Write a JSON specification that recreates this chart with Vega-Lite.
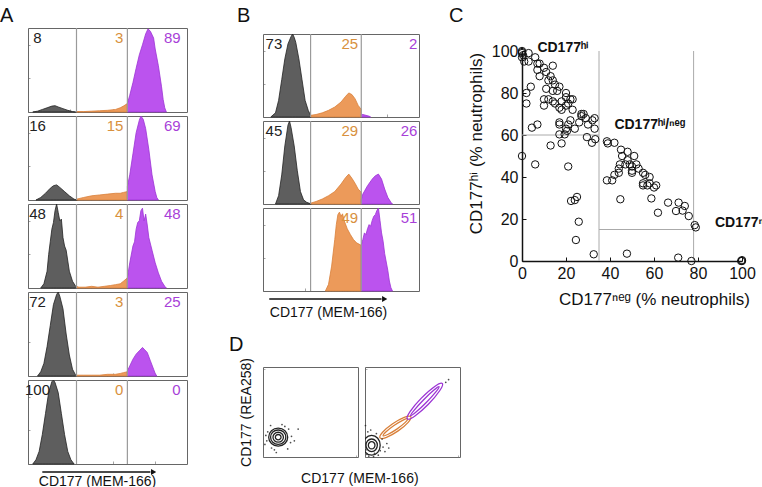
{
"$schema":"https://vega.github.io/schema/vega-lite/v6.json",
"padding":{"left":0,"top":5,"right":0,"bottom":0},
"background":"white",
"config":{"font":"Liberation Sans","view":{"stroke":"#666","strokeWidth":1},"axis":{"grid":false},"title":{"fontSize":20,"fontWeight":"normal","anchor":"start","color":"#111","frame":"group"}},
"datasets":{
"stats":[
{"p":"A1","neg":"8","mid":"3","hi":"89"},{"p":"A2","neg":"16","mid":"15","hi":"69"},{"p":"A3","neg":"48","mid":"4","hi":"48"},{"p":"A4","neg":"72","mid":"3","hi":"25"},{"p":"A5","neg":"100","mid":"0","hi":"0"},
{"p":"B1","neg":"73","mid":"25","hi":"2"},{"p":"B2","neg":"45","mid":"29","hi":"26"},{"p":"B3","neg":"","mid":"49","hi":"51"}],
"arrows":[{"p":"A"},{"p":"B"}],
"hist":[
{"p":"A1","g":"neg","x":3,"y":0},{"p":"A1","g":"neg","x":6,"y":1},{"p":"A1","g":"neg","x":9,"y":3},{"p":"A1","g":"neg","x":12,"y":5},{"p":"A1","g":"neg","x":15,"y":7},{"p":"A1","g":"neg","x":17,"y":7.5},{"p":"A1","g":"neg","x":19,"y":6},{"p":"A1","g":"neg","x":22,"y":4},{"p":"A1","g":"neg","x":25,"y":2},{"p":"A1","g":"neg","x":28,"y":0.5},{"p":"A1","g":"neg","x":30,"y":0},
{"p":"A1","g":"mid","x":30.5,"y":0.5},{"p":"A1","g":"mid","x":35,"y":0.5},{"p":"A1","g":"mid","x":40,"y":1},{"p":"A1","g":"mid","x":45,"y":1.5},{"p":"A1","g":"mid","x":50,"y":2},{"p":"A1","g":"mid","x":55,"y":3},{"p":"A1","g":"mid","x":58,"y":5},{"p":"A1","g":"mid","x":60,"y":7},{"p":"A1","g":"mid","x":62.5,"y":10},
{"p":"A1","g":"hi","x":62.5,"y":10},{"p":"A1","g":"hi","x":64,"y":20},{"p":"A1","g":"hi","x":66,"y":35},{"p":"A1","g":"hi","x":68,"y":52},{"p":"A1","g":"hi","x":70,"y":68},{"p":"A1","g":"hi","x":72,"y":80},{"p":"A1","g":"hi","x":74,"y":93},{"p":"A1","g":"hi","x":75.5,"y":99},{"p":"A1","g":"hi","x":77,"y":96},{"p":"A1","g":"hi","x":79,"y":88},{"p":"A1","g":"hi","x":80,"y":75},{"p":"A1","g":"hi","x":82,"y":55},{"p":"A1","g":"hi","x":84,"y":30},{"p":"A1","g":"hi","x":85,"y":15},{"p":"A1","g":"hi","x":86,"y":5},{"p":"A1","g":"hi","x":87,"y":0},
{"p":"A2","g":"neg","x":5,"y":0},{"p":"A2","g":"neg","x":8,"y":3},{"p":"A2","g":"neg","x":11,"y":8},{"p":"A2","g":"neg","x":14,"y":14},{"p":"A2","g":"neg","x":16,"y":17},{"p":"A2","g":"neg","x":18,"y":18},{"p":"A2","g":"neg","x":20,"y":15},{"p":"A2","g":"neg","x":23,"y":10},{"p":"A2","g":"neg","x":26,"y":5},{"p":"A2","g":"neg","x":29,"y":1},{"p":"A2","g":"neg","x":31,"y":0},
{"p":"A2","g":"mid","x":30.5,"y":1},{"p":"A2","g":"mid","x":35,"y":3},{"p":"A2","g":"mid","x":40,"y":5},{"p":"A2","g":"mid","x":45,"y":6},{"p":"A2","g":"mid","x":50,"y":7},{"p":"A2","g":"mid","x":55,"y":8},{"p":"A2","g":"mid","x":58,"y":8},{"p":"A2","g":"mid","x":60,"y":9},{"p":"A2","g":"mid","x":62.5,"y":10},
{"p":"A2","g":"hi","x":62.5,"y":16},{"p":"A2","g":"hi","x":64,"y":30},{"p":"A2","g":"hi","x":66,"y":55},{"p":"A2","g":"hi","x":68,"y":80},{"p":"A2","g":"hi","x":70,"y":95},{"p":"A2","g":"hi","x":71,"y":100},{"p":"A2","g":"hi","x":72.5,"y":96},{"p":"A2","g":"hi","x":74,"y":85},{"p":"A2","g":"hi","x":76,"y":60},{"p":"A2","g":"hi","x":78,"y":30},{"p":"A2","g":"hi","x":80,"y":10},{"p":"A2","g":"hi","x":81,"y":3},{"p":"A2","g":"hi","x":82,"y":0},
{"p":"A3","g":"neg","x":8,"y":0},{"p":"A3","g":"neg","x":10,"y":5},{"p":"A3","g":"neg","x":12,"y":20},{"p":"A3","g":"neg","x":13,"y":40},{"p":"A3","g":"neg","x":14,"y":55},{"p":"A3","g":"neg","x":15,"y":70},{"p":"A3","g":"neg","x":16,"y":78},{"p":"A3","g":"neg","x":17,"y":92},{"p":"A3","g":"neg","x":18,"y":100},{"p":"A3","g":"neg","x":19,"y":90},{"p":"A3","g":"neg","x":20,"y":80},{"p":"A3","g":"neg","x":21,"y":82},{"p":"A3","g":"neg","x":22,"y":60},{"p":"A3","g":"neg","x":23,"y":50},{"p":"A3","g":"neg","x":24,"y":45},{"p":"A3","g":"neg","x":26,"y":20},{"p":"A3","g":"neg","x":28,"y":8},{"p":"A3","g":"neg","x":30,"y":2},
{"p":"A3","g":"mid","x":30.5,"y":2},{"p":"A3","g":"mid","x":32,"y":1},{"p":"A3","g":"mid","x":36,"y":1},{"p":"A3","g":"mid","x":40,"y":2},{"p":"A3","g":"mid","x":44,"y":1},{"p":"A3","g":"mid","x":48,"y":2},{"p":"A3","g":"mid","x":52,"y":3},{"p":"A3","g":"mid","x":55,"y":4},{"p":"A3","g":"mid","x":58,"y":5},{"p":"A3","g":"mid","x":60,"y":8},{"p":"A3","g":"mid","x":62.5,"y":12},
{"p":"A3","g":"hi","x":62.5,"y":12},{"p":"A3","g":"hi","x":64,"y":30},{"p":"A3","g":"hi","x":66,"y":50},{"p":"A3","g":"hi","x":67,"y":55},{"p":"A3","g":"hi","x":68,"y":70},{"p":"A3","g":"hi","x":69,"y":78},{"p":"A3","g":"hi","x":70,"y":80},{"p":"A3","g":"hi","x":71,"y":92},{"p":"A3","g":"hi","x":72,"y":95},{"p":"A3","g":"hi","x":73,"y":80},{"p":"A3","g":"hi","x":74,"y":88},{"p":"A3","g":"hi","x":75,"y":75},{"p":"A3","g":"hi","x":76,"y":60},{"p":"A3","g":"hi","x":78,"y":45},{"p":"A3","g":"hi","x":80,"y":30},{"p":"A3","g":"hi","x":82,"y":18},{"p":"A3","g":"hi","x":84,"y":8},{"p":"A3","g":"hi","x":86,"y":2},{"p":"A3","g":"hi","x":87,"y":0},
{"p":"A4","g":"neg","x":6,"y":0},{"p":"A4","g":"neg","x":8,"y":5},{"p":"A4","g":"neg","x":10,"y":15},{"p":"A4","g":"neg","x":12,"y":35},{"p":"A4","g":"neg","x":14,"y":60},{"p":"A4","g":"neg","x":16,"y":85},{"p":"A4","g":"neg","x":18,"y":97},{"p":"A4","g":"neg","x":19,"y":100},{"p":"A4","g":"neg","x":20,"y":95},{"p":"A4","g":"neg","x":22,"y":80},{"p":"A4","g":"neg","x":24,"y":50},{"p":"A4","g":"neg","x":26,"y":25},{"p":"A4","g":"neg","x":28,"y":8},{"p":"A4","g":"neg","x":30,"y":1},
{"p":"A4","g":"mid","x":30.5,"y":1},{"p":"A4","g":"mid","x":35,"y":1},{"p":"A4","g":"mid","x":40,"y":1},{"p":"A4","g":"mid","x":45,"y":1},{"p":"A4","g":"mid","x":50,"y":2},{"p":"A4","g":"mid","x":55,"y":2},{"p":"A4","g":"mid","x":58,"y":3},{"p":"A4","g":"mid","x":60,"y":4},{"p":"A4","g":"mid","x":62.5,"y":5},
{"p":"A4","g":"hi","x":62.5,"y":6},{"p":"A4","g":"hi","x":64,"y":12},{"p":"A4","g":"hi","x":66,"y":20},{"p":"A4","g":"hi","x":68,"y":26},{"p":"A4","g":"hi","x":70,"y":30},{"p":"A4","g":"hi","x":72,"y":34},{"p":"A4","g":"hi","x":73,"y":32},{"p":"A4","g":"hi","x":75,"y":28},{"p":"A4","g":"hi","x":77,"y":18},{"p":"A4","g":"hi","x":79,"y":8},{"p":"A4","g":"hi","x":80,"y":3},{"p":"A4","g":"hi","x":81,"y":0},
{"p":"A5","g":"neg","x":3,"y":0},{"p":"A5","g":"neg","x":5,"y":5},{"p":"A5","g":"neg","x":7,"y":15},{"p":"A5","g":"neg","x":9,"y":35},{"p":"A5","g":"neg","x":11,"y":60},{"p":"A5","g":"neg","x":13,"y":85},{"p":"A5","g":"neg","x":15,"y":98},{"p":"A5","g":"neg","x":16,"y":100},{"p":"A5","g":"neg","x":17,"y":97},{"p":"A5","g":"neg","x":19,"y":85},{"p":"A5","g":"neg","x":21,"y":60},{"p":"A5","g":"neg","x":23,"y":35},{"p":"A5","g":"neg","x":25,"y":15},{"p":"A5","g":"neg","x":27,"y":5},{"p":"A5","g":"neg","x":29,"y":0},
{"p":"B1","g":"neg","x":5,"y":0},{"p":"B1","g":"neg","x":8,"y":5},{"p":"B1","g":"neg","x":10,"y":20},{"p":"B1","g":"neg","x":12,"y":45},{"p":"B1","g":"neg","x":14,"y":70},{"p":"B1","g":"neg","x":16,"y":88},{"p":"B1","g":"neg","x":18,"y":97},{"p":"B1","g":"neg","x":19,"y":100},{"p":"B1","g":"neg","x":20,"y":96},{"p":"B1","g":"neg","x":21,"y":90},{"p":"B1","g":"neg","x":23,"y":70},{"p":"B1","g":"neg","x":25,"y":45},{"p":"B1","g":"neg","x":27,"y":20},{"p":"B1","g":"neg","x":29,"y":8},{"p":"B1","g":"neg","x":31,"y":0},
{"p":"B1","g":"mid","x":30.5,"y":2},{"p":"B1","g":"mid","x":34,"y":3},{"p":"B1","g":"mid","x":38,"y":5},{"p":"B1","g":"mid","x":42,"y":8},{"p":"B1","g":"mid","x":46,"y":12},{"p":"B1","g":"mid","x":50,"y":18},{"p":"B1","g":"mid","x":53,"y":25},{"p":"B1","g":"mid","x":55,"y":29},{"p":"B1","g":"mid","x":57,"y":27},{"p":"B1","g":"mid","x":59,"y":22},{"p":"B1","g":"mid","x":61,"y":14},{"p":"B1","g":"mid","x":63,"y":9},
{"p":"B1","g":"hi","x":63,"y":3},{"p":"B1","g":"hi","x":64,"y":3},{"p":"B1","g":"hi","x":66,"y":2},{"p":"B1","g":"hi","x":68,"y":1},{"p":"B1","g":"hi","x":69,"y":0},
{"p":"B2","g":"neg","x":8,"y":0},{"p":"B2","g":"neg","x":10,"y":10},{"p":"B2","g":"neg","x":12,"y":35},{"p":"B2","g":"neg","x":14,"y":70},{"p":"B2","g":"neg","x":16,"y":95},{"p":"B2","g":"neg","x":17,"y":100},{"p":"B2","g":"neg","x":18,"y":92},{"p":"B2","g":"neg","x":20,"y":70},{"p":"B2","g":"neg","x":22,"y":40},{"p":"B2","g":"neg","x":24,"y":15},{"p":"B2","g":"neg","x":26,"y":5},{"p":"B2","g":"neg","x":28,"y":2},{"p":"B2","g":"neg","x":31,"y":0},
{"p":"B2","g":"mid","x":30.5,"y":1},{"p":"B2","g":"mid","x":34,"y":3},{"p":"B2","g":"mid","x":38,"y":6},{"p":"B2","g":"mid","x":42,"y":10},{"p":"B2","g":"mid","x":46,"y":15},{"p":"B2","g":"mid","x":50,"y":24},{"p":"B2","g":"mid","x":53,"y":32},{"p":"B2","g":"mid","x":55,"y":36},{"p":"B2","g":"mid","x":57,"y":31},{"p":"B2","g":"mid","x":59,"y":25},{"p":"B2","g":"mid","x":61,"y":18},{"p":"B2","g":"mid","x":63,"y":14},
{"p":"B2","g":"hi","x":63,"y":5},{"p":"B2","g":"hi","x":64,"y":12},{"p":"B2","g":"hi","x":67,"y":22},{"p":"B2","g":"hi","x":70,"y":30},{"p":"B2","g":"hi","x":72,"y":34},{"p":"B2","g":"hi","x":74,"y":36},{"p":"B2","g":"hi","x":76,"y":30},{"p":"B2","g":"hi","x":78,"y":18},{"p":"B2","g":"hi","x":80,"y":8},{"p":"B2","g":"hi","x":82,"y":2},{"p":"B2","g":"hi","x":83,"y":0},
{"p":"B3","g":"mid","x":40,"y":0},{"p":"B3","g":"mid","x":42,"y":8},{"p":"B3","g":"mid","x":44,"y":30},{"p":"B3","g":"mid","x":46,"y":62},{"p":"B3","g":"mid","x":47,"y":80},{"p":"B3","g":"mid","x":48,"y":92},{"p":"B3","g":"mid","x":49,"y":95},{"p":"B3","g":"mid","x":50,"y":90},{"p":"B3","g":"mid","x":51,"y":93},{"p":"B3","g":"mid","x":52,"y":85},{"p":"B3","g":"mid","x":54,"y":75},{"p":"B3","g":"mid","x":56,"y":68},{"p":"B3","g":"mid","x":58,"y":62},{"p":"B3","g":"mid","x":60,"y":58},{"p":"B3","g":"mid","x":63,"y":55},
{"p":"B3","g":"hi","x":63,"y":55},{"p":"B3","g":"hi","x":64,"y":62},{"p":"B3","g":"hi","x":65,"y":70},{"p":"B3","g":"hi","x":66,"y":68},{"p":"B3","g":"hi","x":67,"y":75},{"p":"B3","g":"hi","x":68,"y":80},{"p":"B3","g":"hi","x":69,"y":78},{"p":"B3","g":"hi","x":70,"y":85},{"p":"B3","g":"hi","x":71,"y":90},{"p":"B3","g":"hi","x":72,"y":92},{"p":"B3","g":"hi","x":73,"y":97},{"p":"B3","g":"hi","x":74,"y":100},{"p":"B3","g":"hi","x":75,"y":85},{"p":"B3","g":"hi","x":76,"y":70},{"p":"B3","g":"hi","x":77,"y":60},{"p":"B3","g":"hi","x":78,"y":45},{"p":"B3","g":"hi","x":80,"y":25},{"p":"B3","g":"hi","x":81,"y":12},{"p":"B3","g":"hi","x":82,"y":4},{"p":"B3","g":"hi","x":83,"y":0}
],
"scatter":[
{"x":0,"y":100},{"x":0,"y":99.5},{"x":0,"y":99},{"x":0.5,"y":98},{"x":0,"y":97},{"x":3,"y":99},{"x":1,"y":95},{"x":3,"y":95},{"x":6,"y":97},{"x":7,"y":94},{"x":8,"y":94},{"x":10,"y":92},{"x":14,"y":93},{"x":7,"y":91},{"x":8,"y":88},{"x":11,"y":90},{"x":13,"y":88},{"x":14,"y":86},{"x":12,"y":86},{"x":15,"y":84},{"x":17,"y":83},{"x":11,"y":82},{"x":14,"y":81},{"x":16,"y":81},{"x":2,"y":80},{"x":4,"y":83},{"x":2,"y":75},{"x":10,"y":77},{"x":12,"y":77},{"x":10,"y":74},{"x":14,"y":76},{"x":15,"y":75},{"x":17,"y":73},{"x":18,"y":76},{"x":20,"y":78},{"x":20,"y":80},{"x":21,"y":75},{"x":22,"y":77},{"x":23,"y":77},{"x":20,"y":74},{"x":23,"y":72},{"x":18,"y":72},{"x":27,"y":70},{"x":28,"y":70},{"x":27,"y":69},{"x":29,"y":68},{"x":22,"y":67},{"x":26,"y":66},{"x":32,"y":67},{"x":33,"y":68},{"x":17,"y":66},{"x":21,"y":65},{"x":17,"y":65},{"x":30,"y":65},{"x":20,"y":63},{"x":24,"y":63},{"x":4.5,"y":63.5},{"x":7,"y":65},{"x":33,"y":63},{"x":17,"y":60.3},{"x":20.5,"y":62},{"x":19.4,"y":60.3},{"x":18,"y":56},{"x":13,"y":55},{"x":29.5,"y":59},{"x":31.8,"y":56.3},{"x":33.3,"y":58},{"x":0,"y":50},{"x":6,"y":46},{"x":21,"y":45},{"x":22.3,"y":28.6},{"x":24,"y":29},{"x":25,"y":30.5},{"x":25.8,"y":18.7},{"x":24.5,"y":10},{"x":32.6,"y":3.2},
{"x":38.6,"y":57},{"x":39,"y":56},{"x":42,"y":56.3},{"x":45,"y":53},{"x":48,"y":52},{"x":51,"y":50},{"x":45.5,"y":50},{"x":48,"y":48},{"x":44.5,"y":46},{"x":47,"y":46},{"x":49,"y":46},{"x":50,"y":45},{"x":52,"y":46},{"x":53,"y":44},{"x":50,"y":43},{"x":50,"y":42},{"x":55,"y":42},{"x":56,"y":41},{"x":58,"y":40},{"x":58,"y":37},{"x":60,"y":35},{"x":61,"y":36},{"x":55,"y":37},{"x":57,"y":36},{"x":44,"y":44},{"x":44,"y":42},{"x":42,"y":41},{"x":38.6,"y":38.4},{"x":41,"y":38.4},{"x":44.7,"y":29.4},{"x":55,"y":36},{"x":58.8,"y":29.8},{"x":61.8,"y":23},{"x":66.4,"y":27.8},{"x":71.2,"y":27.8},{"x":74,"y":26.2},{"x":73,"y":24},{"x":70,"y":23.8},{"x":75.8,"y":21.4},{"x":78.5,"y":17.1},{"x":79,"y":16},{"x":47.7,"y":3.5},{"x":71,"y":1.6},{"x":77,"y":0},{"x":100,"y":0},{"x":99.6,"y":0},{"x":100,"y":0.4}
],
"cgates":[{"x":35,"x2":35,"y":0,"y2":100},{"x":78,"x2":78,"y":0,"y2":100},{"x":0,"x2":35,"y":60,"y2":60},{"x":35,"x2":78,"y":15,"y2":15}],
"clabels":[{"k":"hi","label":"CD177ʰⁱ"},{"k":"mid","label":"CD177ʰⁱ/ⁿᵉᵍ"},{"k":"neg","label":"CD177ⁿᵉᵍ"}],
"dcont":[
{"p":"L","c":"L1","g":"neg","i":0,"x":26,"y":22},{"p":"L","c":"L1","g":"neg","i":1,"x":23.1,"y":29.1},{"p":"L","c":"L1","g":"neg","i":2,"x":16,"y":32},{"p":"L","c":"L1","g":"neg","i":3,"x":8.9,"y":29.1},{"p":"L","c":"L1","g":"neg","i":4,"x":6,"y":22},{"p":"L","c":"L1","g":"neg","i":5,"x":8.9,"y":14.9},{"p":"L","c":"L1","g":"neg","i":6,"x":16,"y":12},{"p":"L","c":"L1","g":"neg","i":7,"x":23.1,"y":14.9},
{"p":"L","c":"L2","g":"neg","i":0,"x":24,"y":22},{"p":"L","c":"L2","g":"neg","i":1,"x":21.7,"y":27.7},{"p":"L","c":"L2","g":"neg","i":2,"x":16,"y":30},{"p":"L","c":"L2","g":"neg","i":3,"x":10.3,"y":27.7},{"p":"L","c":"L2","g":"neg","i":4,"x":8,"y":22},{"p":"L","c":"L2","g":"neg","i":5,"x":10.3,"y":16.3},{"p":"L","c":"L2","g":"neg","i":6,"x":16,"y":14},{"p":"L","c":"L2","g":"neg","i":7,"x":21.7,"y":16.3},
{"p":"L","c":"L3","g":"neg","i":0,"x":21.5,"y":22},{"p":"L","c":"L3","g":"neg","i":1,"x":19.9,"y":25.9},{"p":"L","c":"L3","g":"neg","i":2,"x":16,"y":27.5},{"p":"L","c":"L3","g":"neg","i":3,"x":12.1,"y":25.9},{"p":"L","c":"L3","g":"neg","i":4,"x":10.5,"y":22},{"p":"L","c":"L3","g":"neg","i":5,"x":12.1,"y":18.1},{"p":"L","c":"L3","g":"neg","i":6,"x":16,"y":16.5},{"p":"L","c":"L3","g":"neg","i":7,"x":19.9,"y":18.1},
{"p":"L","c":"L4","g":"neg","i":0,"x":19,"y":22},{"p":"L","c":"L4","g":"neg","i":1,"x":18.1,"y":24.1},{"p":"L","c":"L4","g":"neg","i":2,"x":16,"y":25},{"p":"L","c":"L4","g":"neg","i":3,"x":13.9,"y":24.1},{"p":"L","c":"L4","g":"neg","i":4,"x":13,"y":22},{"p":"L","c":"L4","g":"neg","i":5,"x":13.9,"y":19.9},{"p":"L","c":"L4","g":"neg","i":6,"x":16,"y":19},{"p":"L","c":"L4","g":"neg","i":7,"x":18.1,"y":19.9},
{"p":"R","c":"R1","g":"neg","i":0,"x":16,"y":13},{"p":"R","c":"R1","g":"neg","i":1,"x":13.4,"y":20.8},{"p":"R","c":"R1","g":"neg","i":2,"x":7,"y":24},{"p":"R","c":"R1","g":"neg","i":3,"x":0.6,"y":20.8},{"p":"R","c":"R1","g":"neg","i":4,"x":-2,"y":13},{"p":"R","c":"R1","g":"neg","i":5,"x":0.6,"y":5.2},{"p":"R","c":"R1","g":"neg","i":6,"x":7,"y":2},{"p":"R","c":"R1","g":"neg","i":7,"x":13.4,"y":5.2},
{"p":"R","c":"R2","g":"neg","i":0,"x":13,"y":13},{"p":"R","c":"R2","g":"neg","i":1,"x":11.2,"y":18},{"p":"R","c":"R2","g":"neg","i":2,"x":7,"y":20},{"p":"R","c":"R2","g":"neg","i":3,"x":2.8,"y":18},{"p":"R","c":"R2","g":"neg","i":4,"x":1,"y":13},{"p":"R","c":"R2","g":"neg","i":5,"x":2.8,"y":8},{"p":"R","c":"R2","g":"neg","i":6,"x":7,"y":6},{"p":"R","c":"R2","g":"neg","i":7,"x":11.2,"y":8},
{"p":"R","c":"R3","g":"neg","i":0,"x":10.5,"y":13},{"p":"R","c":"R3","g":"neg","i":1,"x":9.5,"y":15.8},{"p":"R","c":"R3","g":"neg","i":2,"x":7,"y":17},{"p":"R","c":"R3","g":"neg","i":3,"x":4.5,"y":15.8},{"p":"R","c":"R3","g":"neg","i":4,"x":3.5,"y":13},{"p":"R","c":"R3","g":"neg","i":5,"x":4.5,"y":10.2},{"p":"R","c":"R3","g":"neg","i":6,"x":7,"y":9},{"p":"R","c":"R3","g":"neg","i":7,"x":9.5,"y":10.2},
{"p":"R","c":"R4","g":"mid","i":0,"x":48.2,"y":44.8},{"p":"R","c":"R4","g":"mid","i":1,"x":41.3,"y":44.1},{"p":"R","c":"R4","g":"mid","i":2,"x":29.1,"y":37},{"p":"R","c":"R4","g":"mid","i":3,"x":18.5,"y":27.5},{"p":"R","c":"R4","g":"mid","i":4,"x":15.8,"y":21.2},{"p":"R","c":"R4","g":"mid","i":5,"x":22.7,"y":21.9},{"p":"R","c":"R4","g":"mid","i":6,"x":34.9,"y":29},{"p":"R","c":"R4","g":"mid","i":7,"x":45.5,"y":38.5},
{"p":"R","c":"R5","g":"mid","i":0,"x":44.9,"y":42.4},{"p":"R","c":"R5","g":"mid","i":1,"x":40.1,"y":41},{"p":"R","c":"R5","g":"mid","i":2,"x":30.5,"y":35},{"p":"R","c":"R5","g":"mid","i":3,"x":21.9,"y":27.8},{"p":"R","c":"R5","g":"mid","i":4,"x":19.1,"y":23.6},{"p":"R","c":"R5","g":"mid","i":5,"x":23.9,"y":25},{"p":"R","c":"R5","g":"mid","i":6,"x":33.5,"y":31},{"p":"R","c":"R5","g":"mid","i":7,"x":42.1,"y":38.2},
{"p":"R","c":"R6","g":"hi","i":0,"x":81.4,"y":81.7},{"p":"R","c":"R6","g":"hi","i":1,"x":73.4,"y":78.4},{"p":"R","c":"R6","g":"hi","i":2,"x":59.3,"y":65.4},{"p":"R","c":"R6","g":"hi","i":3,"x":47.4,"y":50.4},{"p":"R","c":"R6","g":"hi","i":4,"x":44.6,"y":42.3},{"p":"R","c":"R6","g":"hi","i":5,"x":52.6,"y":45.6},{"p":"R","c":"R6","g":"hi","i":6,"x":66.7,"y":58.6},{"p":"R","c":"R6","g":"hi","i":7,"x":78.6,"y":73.6},
{"p":"R","c":"R7","g":"hi","i":0,"x":78,"y":78.1},{"p":"R","c":"R7","g":"hi","i":1,"x":72.6,"y":74.4},{"p":"R","c":"R7","g":"hi","i":2,"x":61.5,"y":63.4},{"p":"R","c":"R7","g":"hi","i":3,"x":51.4,"y":51.6},{"p":"R","c":"R7","g":"hi","i":4,"x":48,"y":45.9},{"p":"R","c":"R7","g":"hi","i":5,"x":53.4,"y":49.6},{"p":"R","c":"R7","g":"hi","i":6,"x":64.5,"y":60.6},{"p":"R","c":"R7","g":"hi","i":7,"x":74.6,"y":72.4}
],
"ddots":[
{"p":"L","x":4,"y":18},{"p":"L","x":5,"y":28},{"p":"L","x":8,"y":35},{"p":"L","x":27,"y":31},{"p":"L","x":29,"y":16},{"p":"L","x":26,"y":9},{"p":"L","x":12,"y":8},{"p":"L","x":30,"y":23},{"p":"L","x":20,"y":36},{"p":"L","x":3,"y":24},{"p":"L","x":9,"y":10},{"p":"L","x":23,"y":34},{"p":"L","x":2,"y":14},{"p":"L","x":37,"y":31},{"p":"L","x":14,"y":5},{"p":"L","x":33,"y":18},
{"p":"R","x":2,"y":3},{"p":"R","x":4,"y":1},{"p":"R","x":10,"y":4},{"p":"R","x":16,"y":7},{"p":"R","x":19,"y":11},{"p":"R","x":3,"y":28},{"p":"R","x":12,"y":26},{"p":"R","x":21,"y":6},{"p":"R","x":1,"y":8},{"p":"R","x":6,"y":30},{"p":"R","x":14,"y":2},{"p":"R","x":18,"y":20},{"p":"R","x":23,"y":15},{"p":"R","x":9,"y":0.5},{"p":"R","x":25,"y":10},{"p":"R","x":0.5,"y":35},{"p":"R","x":88,"y":86},{"p":"R","x":85,"y":83}
]
},
"spacing":41,
"hconcat":[
{"title":{"text":"A","dx":-28,"offset":1},"bounds":"flush","spacing":4,"vconcat":[
{"width":159,"height":84,"layer":[
 {"data":{"name":"hist"},"transform":[{"filter":"datum.p === 'A1'"}],"mark":{"type":"area","interpolate":"linear","strokeWidth":0.8},"encoding":{"x":{"field":"x","type":"quantitative","scale":{"domain":[0,100],"nice":false},"axis":{"title":null,"labels":false,"domain":false,"minExtent":0,"maxExtent":0,"tickSize":-3,"tickWidth":0.6,"tickColor":"#666","values":[0,8.4,13.4,16.9,19.6,21.8,23.7,25.3,26.7,28,36.4,41.4,44.9,47.6,49.8,51.7,53.3,54.7,56,64.4,69.4,72.9,75.6,77.8,79.7,81.3,82.7,84,92.4,97.4]}},"y":{"field":"y","type":"quantitative","stack":null,"scale":{"domain":[0,100],"nice":false},"axis":{"title":null,"labels":false,"domain":false,"minExtent":0,"maxExtent":0,"tickSize":-2,"tickWidth":0.6,"tickColor":"#666","values":[0,5,10,15,20,25,30,35,40,45,50,55,60,65,70,75,80,85,90,95]}},"fill":{"field":"g","type":"nominal","scale":{"domain":["neg","mid","hi"],"range":["#5e5e5e","#EC9A5A","#BB53EE"]},"legend":null},"stroke":{"field":"g","type":"nominal","scale":{"domain":["neg","mid","hi"],"range":["#222222","#D9803A","#9C34D4"]},"legend":null}}},
 {"data":{"name":"stats"},"transform":[{"filter":"datum.p === 'A1'"}],"layer":[
  {"mark":{"type":"rule","color":"#9a9a9a","strokeWidth":1.2},"encoding":{"x":{"datum":30.5}}},
  {"mark":{"type":"rule","color":"#9a9a9a","strokeWidth":1.2},"encoding":{"x":{"datum":62.5}}},
  {"mark":{"type":"text","align":"center","baseline":"top","fontSize":15,"color":"#222"},"encoding":{"x":{"datum":6},"y":{"datum":96},"text":{"field":"neg"}}},
  {"mark":{"type":"text","align":"right","baseline":"top","fontSize":15,"color":"#D8913E"},"encoding":{"x":{"datum":60},"y":{"datum":96},"text":{"field":"mid"}}},
  {"mark":{"type":"text","align":"right","baseline":"top","fontSize":15,"color":"#A83FD8"},"encoding":{"x":{"datum":96},"y":{"datum":96},"text":{"field":"hi"}}}]}]},
{"width":159,"height":84,"layer":[
 {"data":{"name":"hist"},"transform":[{"filter":"datum.p === 'A2'"}],"mark":{"type":"area","interpolate":"linear","strokeWidth":0.8},"encoding":{"x":{"field":"x","type":"quantitative","scale":{"domain":[0,100],"nice":false},"axis":{"title":null,"labels":false,"domain":false,"minExtent":0,"maxExtent":0,"tickSize":-3,"tickWidth":0.6,"tickColor":"#666","values":[0,8.4,13.4,16.9,19.6,21.8,23.7,25.3,26.7,28,36.4,41.4,44.9,47.6,49.8,51.7,53.3,54.7,56,64.4,69.4,72.9,75.6,77.8,79.7,81.3,82.7,84,92.4,97.4]}},"y":{"field":"y","type":"quantitative","stack":null,"scale":{"domain":[0,100],"nice":false},"axis":{"title":null,"labels":false,"domain":false,"minExtent":0,"maxExtent":0,"tickSize":-2,"tickWidth":0.6,"tickColor":"#666","values":[0,5,10,15,20,25,30,35,40,45,50,55,60,65,70,75,80,85,90,95]}},"fill":{"field":"g","type":"nominal","scale":{"domain":["neg","mid","hi"],"range":["#5e5e5e","#EC9A5A","#BB53EE"]},"legend":null},"stroke":{"field":"g","type":"nominal","scale":{"domain":["neg","mid","hi"],"range":["#222222","#D9803A","#9C34D4"]},"legend":null}}},
 {"data":{"name":"stats"},"transform":[{"filter":"datum.p === 'A2'"}],"layer":[
  {"mark":{"type":"rule","color":"#9a9a9a","strokeWidth":1.2},"encoding":{"x":{"datum":30.5}}},
  {"mark":{"type":"rule","color":"#9a9a9a","strokeWidth":1.2},"encoding":{"x":{"datum":62.5}}},
  {"mark":{"type":"text","align":"center","baseline":"top","fontSize":15,"color":"#222"},"encoding":{"x":{"datum":6},"y":{"datum":96},"text":{"field":"neg"}}},
  {"mark":{"type":"text","align":"right","baseline":"top","fontSize":15,"color":"#D8913E"},"encoding":{"x":{"datum":60},"y":{"datum":96},"text":{"field":"mid"}}},
  {"mark":{"type":"text","align":"right","baseline":"top","fontSize":15,"color":"#A83FD8"},"encoding":{"x":{"datum":96},"y":{"datum":96},"text":{"field":"hi"}}}]}]},
{"width":159,"height":84,"layer":[
 {"data":{"name":"hist"},"transform":[{"filter":"datum.p === 'A3'"}],"mark":{"type":"area","interpolate":"linear","strokeWidth":0.8},"encoding":{"x":{"field":"x","type":"quantitative","scale":{"domain":[0,100],"nice":false},"axis":{"title":null,"labels":false,"domain":false,"minExtent":0,"maxExtent":0,"tickSize":-3,"tickWidth":0.6,"tickColor":"#666","values":[0,8.4,13.4,16.9,19.6,21.8,23.7,25.3,26.7,28,36.4,41.4,44.9,47.6,49.8,51.7,53.3,54.7,56,64.4,69.4,72.9,75.6,77.8,79.7,81.3,82.7,84,92.4,97.4]}},"y":{"field":"y","type":"quantitative","stack":null,"scale":{"domain":[0,100],"nice":false},"axis":{"title":null,"labels":false,"domain":false,"minExtent":0,"maxExtent":0,"tickSize":-2,"tickWidth":0.6,"tickColor":"#666","values":[0,5,10,15,20,25,30,35,40,45,50,55,60,65,70,75,80,85,90,95]}},"fill":{"field":"g","type":"nominal","scale":{"domain":["neg","mid","hi"],"range":["#5e5e5e","#EC9A5A","#BB53EE"]},"legend":null},"stroke":{"field":"g","type":"nominal","scale":{"domain":["neg","mid","hi"],"range":["#222222","#D9803A","#9C34D4"]},"legend":null}}},
 {"data":{"name":"stats"},"transform":[{"filter":"datum.p === 'A3'"}],"layer":[
  {"mark":{"type":"rule","color":"#9a9a9a","strokeWidth":1.2},"encoding":{"x":{"datum":30.5}}},
  {"mark":{"type":"rule","color":"#9a9a9a","strokeWidth":1.2},"encoding":{"x":{"datum":62.5}}},
  {"mark":{"type":"text","align":"center","baseline":"top","fontSize":15,"color":"#222"},"encoding":{"x":{"datum":6},"y":{"datum":96},"text":{"field":"neg"}}},
  {"mark":{"type":"text","align":"right","baseline":"top","fontSize":15,"color":"#D8913E"},"encoding":{"x":{"datum":60},"y":{"datum":96},"text":{"field":"mid"}}},
  {"mark":{"type":"text","align":"right","baseline":"top","fontSize":15,"color":"#A83FD8"},"encoding":{"x":{"datum":96},"y":{"datum":96},"text":{"field":"hi"}}}]}]},
{"width":159,"height":84,"layer":[
 {"data":{"name":"hist"},"transform":[{"filter":"datum.p === 'A4'"}],"mark":{"type":"area","interpolate":"linear","strokeWidth":0.8},"encoding":{"x":{"field":"x","type":"quantitative","scale":{"domain":[0,100],"nice":false},"axis":{"title":null,"labels":false,"domain":false,"minExtent":0,"maxExtent":0,"tickSize":-3,"tickWidth":0.6,"tickColor":"#666","values":[0,8.4,13.4,16.9,19.6,21.8,23.7,25.3,26.7,28,36.4,41.4,44.9,47.6,49.8,51.7,53.3,54.7,56,64.4,69.4,72.9,75.6,77.8,79.7,81.3,82.7,84,92.4,97.4]}},"y":{"field":"y","type":"quantitative","stack":null,"scale":{"domain":[0,100],"nice":false},"axis":{"title":null,"labels":false,"domain":false,"minExtent":0,"maxExtent":0,"tickSize":-2,"tickWidth":0.6,"tickColor":"#666","values":[0,5,10,15,20,25,30,35,40,45,50,55,60,65,70,75,80,85,90,95]}},"fill":{"field":"g","type":"nominal","scale":{"domain":["neg","mid","hi"],"range":["#5e5e5e","#EC9A5A","#BB53EE"]},"legend":null},"stroke":{"field":"g","type":"nominal","scale":{"domain":["neg","mid","hi"],"range":["#222222","#D9803A","#9C34D4"]},"legend":null}}},
 {"data":{"name":"stats"},"transform":[{"filter":"datum.p === 'A4'"}],"layer":[
  {"mark":{"type":"rule","color":"#9a9a9a","strokeWidth":1.2},"encoding":{"x":{"datum":30.5}}},
  {"mark":{"type":"rule","color":"#9a9a9a","strokeWidth":1.2},"encoding":{"x":{"datum":62.5}}},
  {"mark":{"type":"text","align":"center","baseline":"top","fontSize":15,"color":"#222"},"encoding":{"x":{"datum":6},"y":{"datum":96},"text":{"field":"neg"}}},
  {"mark":{"type":"text","align":"right","baseline":"top","fontSize":15,"color":"#D8913E"},"encoding":{"x":{"datum":60},"y":{"datum":96},"text":{"field":"mid"}}},
  {"mark":{"type":"text","align":"right","baseline":"top","fontSize":15,"color":"#A83FD8"},"encoding":{"x":{"datum":96},"y":{"datum":96},"text":{"field":"hi"}}}]}]},
{"width":159,"height":84,"layer":[
 {"data":{"name":"hist"},"transform":[{"filter":"datum.p === 'A5'"}],"mark":{"type":"area","interpolate":"linear","strokeWidth":0.8},"encoding":{"x":{"field":"x","type":"quantitative","scale":{"domain":[0,100],"nice":false},"axis":{"title":null,"labels":false,"domain":false,"minExtent":0,"maxExtent":0,"tickSize":-3,"tickWidth":0.6,"tickColor":"#666","values":[0,8.4,13.4,16.9,19.6,21.8,23.7,25.3,26.7,28,36.4,41.4,44.9,47.6,49.8,51.7,53.3,54.7,56,64.4,69.4,72.9,75.6,77.8,79.7,81.3,82.7,84,92.4,97.4]}},"y":{"field":"y","type":"quantitative","stack":null,"scale":{"domain":[0,100],"nice":false},"axis":{"title":null,"labels":false,"domain":false,"minExtent":0,"maxExtent":0,"tickSize":-2,"tickWidth":0.6,"tickColor":"#666","values":[0,5,10,15,20,25,30,35,40,45,50,55,60,65,70,75,80,85,90,95]}},"fill":{"field":"g","type":"nominal","scale":{"domain":["neg","mid","hi"],"range":["#5e5e5e","#EC9A5A","#BB53EE"]},"legend":null},"stroke":{"field":"g","type":"nominal","scale":{"domain":["neg","mid","hi"],"range":["#222222","#D9803A","#9C34D4"]},"legend":null}}},
 {"data":{"name":"stats"},"transform":[{"filter":"datum.p === 'A5'"}],"layer":[
  {"mark":{"type":"rule","color":"#9a9a9a","strokeWidth":1.2},"encoding":{"x":{"datum":30.5}}},
  {"mark":{"type":"rule","color":"#9a9a9a","strokeWidth":1.2},"encoding":{"x":{"datum":62.5}}},
  {"mark":{"type":"text","align":"center","baseline":"top","fontSize":15,"color":"#222"},"encoding":{"x":{"datum":6},"y":{"datum":96},"text":{"field":"neg"}}},
  {"mark":{"type":"text","align":"right","baseline":"top","fontSize":15,"color":"#D8913E"},"encoding":{"x":{"datum":60},"y":{"datum":96},"text":{"field":"mid"}}},
  {"mark":{"type":"text","align":"right","baseline":"top","fontSize":15,"color":"#A83FD8"},"encoding":{"x":{"datum":96},"y":{"datum":96},"text":{"field":"hi"}}}]}]},
{"width":159,"height":4,"view":{"stroke":null},"data":{"name":"arrows"},"transform":[{"filter":"datum.p === 'A'"}],"layer":[
 {"mark":{"type":"rule","color":"#111","strokeWidth":1.5},"encoding":{"x":{"datum":9,"type":"quantitative","scale":{"domain":[0,100],"nice":false},"axis":{"title":"CD177 (MEM-166)","labels":false,"ticks":false,"domain":false,"titleFontSize":14,"titleFontWeight":"normal","titleColor":"#111","titlePadding":2,"titleX":69}},"x2":{"datum":77},"y":{"datum":0,"type":"quantitative","scale":{"domain":[0,1]},"axis":null}}},
 {"mark":{"type":"point","shape":"triangle-right","filled":true,"color":"#111","size":36,"opacity":1},"encoding":{"x":{"datum":79},"y":{"datum":0}}}]}
]},
{"spacing":16,"vconcat":[
  {"spacing":29,"hconcat":[
   {"title":{"text":"B","dx":-26,"offset":2},"bounds":"flush","spacing":4,"vconcat":[
{"width":156,"height":2,"view":{"stroke":null},"data":{"name":"arrows"},"transform":[{"filter":"datum.p === 'none'"}],"mark":"point","encoding":{"x":{"field":"p","type":"nominal","axis":null},"y":{"field":"p","type":"nominal","axis":null}}},
{"width":156,"height":83,"layer":[
 {"data":{"name":"hist"},"transform":[{"filter":"datum.p === 'B1'"}],"mark":{"type":"area","interpolate":"linear","strokeWidth":0.8},"encoding":{"x":{"field":"x","type":"quantitative","scale":{"domain":[0,100],"nice":false},"axis":{"title":null,"labels":false,"domain":false,"minExtent":0,"maxExtent":0,"tickSize":-3,"tickWidth":0.6,"tickColor":"#666","values":[0,8.4,13.4,16.9,19.6,21.8,23.7,25.3,26.7,28,36.4,41.4,44.9,47.6,49.8,51.7,53.3,54.7,56,64.4,69.4,72.9,75.6,77.8,79.7,81.3,82.7,84,92.4,97.4]}},"y":{"field":"y","type":"quantitative","stack":null,"scale":{"domain":[0,100],"nice":false},"axis":{"title":null,"labels":false,"domain":false,"minExtent":0,"maxExtent":0,"tickSize":-2,"tickWidth":0.6,"tickColor":"#666","values":[0,5,10,15,20,25,30,35,40,45,50,55,60,65,70,75,80,85,90,95]}},"fill":{"field":"g","type":"nominal","scale":{"domain":["neg","mid","hi"],"range":["#5e5e5e","#EC9A5A","#BB53EE"]},"legend":null},"stroke":{"field":"g","type":"nominal","scale":{"domain":["neg","mid","hi"],"range":["#222222","#D9803A","#9C34D4"]},"legend":null}}},
 {"data":{"name":"stats"},"transform":[{"filter":"datum.p === 'B1'"}],"layer":[
  {"mark":{"type":"rule","color":"#9a9a9a","strokeWidth":1.2},"encoding":{"x":{"datum":30.5}}},
  {"mark":{"type":"rule","color":"#9a9a9a","strokeWidth":1.2},"encoding":{"x":{"datum":63}}},
  {"mark":{"type":"text","align":"center","baseline":"top","fontSize":15,"color":"#222"},"encoding":{"x":{"datum":7},"y":{"datum":96},"text":{"field":"neg"}}},
  {"mark":{"type":"text","align":"right","baseline":"top","fontSize":15,"color":"#D8913E"},"encoding":{"x":{"datum":61},"y":{"datum":96},"text":{"field":"mid"}}},
  {"mark":{"type":"text","align":"right","baseline":"top","fontSize":15,"color":"#A83FD8"},"encoding":{"x":{"datum":99},"y":{"datum":96},"text":{"field":"hi"}}}]}]},
{"width":156,"height":83,"layer":[
 {"data":{"name":"hist"},"transform":[{"filter":"datum.p === 'B2'"}],"mark":{"type":"area","interpolate":"linear","strokeWidth":0.8},"encoding":{"x":{"field":"x","type":"quantitative","scale":{"domain":[0,100],"nice":false},"axis":{"title":null,"labels":false,"domain":false,"minExtent":0,"maxExtent":0,"tickSize":-3,"tickWidth":0.6,"tickColor":"#666","values":[0,8.4,13.4,16.9,19.6,21.8,23.7,25.3,26.7,28,36.4,41.4,44.9,47.6,49.8,51.7,53.3,54.7,56,64.4,69.4,72.9,75.6,77.8,79.7,81.3,82.7,84,92.4,97.4]}},"y":{"field":"y","type":"quantitative","stack":null,"scale":{"domain":[0,100],"nice":false},"axis":{"title":null,"labels":false,"domain":false,"minExtent":0,"maxExtent":0,"tickSize":-2,"tickWidth":0.6,"tickColor":"#666","values":[0,5,10,15,20,25,30,35,40,45,50,55,60,65,70,75,80,85,90,95]}},"fill":{"field":"g","type":"nominal","scale":{"domain":["neg","mid","hi"],"range":["#5e5e5e","#EC9A5A","#BB53EE"]},"legend":null},"stroke":{"field":"g","type":"nominal","scale":{"domain":["neg","mid","hi"],"range":["#222222","#D9803A","#9C34D4"]},"legend":null}}},
 {"data":{"name":"stats"},"transform":[{"filter":"datum.p === 'B2'"}],"layer":[
  {"mark":{"type":"rule","color":"#9a9a9a","strokeWidth":1.2},"encoding":{"x":{"datum":30.5}}},
  {"mark":{"type":"rule","color":"#9a9a9a","strokeWidth":1.2},"encoding":{"x":{"datum":63}}},
  {"mark":{"type":"text","align":"center","baseline":"top","fontSize":15,"color":"#222"},"encoding":{"x":{"datum":7},"y":{"datum":96},"text":{"field":"neg"}}},
  {"mark":{"type":"text","align":"right","baseline":"top","fontSize":15,"color":"#D8913E"},"encoding":{"x":{"datum":61},"y":{"datum":96},"text":{"field":"mid"}}},
  {"mark":{"type":"text","align":"right","baseline":"top","fontSize":15,"color":"#A83FD8"},"encoding":{"x":{"datum":99},"y":{"datum":96},"text":{"field":"hi"}}}]}]},
{"width":156,"height":83,"layer":[
 {"data":{"name":"hist"},"transform":[{"filter":"datum.p === 'B3'"}],"mark":{"type":"area","interpolate":"linear","strokeWidth":0.8},"encoding":{"x":{"field":"x","type":"quantitative","scale":{"domain":[0,100],"nice":false},"axis":{"title":null,"labels":false,"domain":false,"minExtent":0,"maxExtent":0,"tickSize":-3,"tickWidth":0.6,"tickColor":"#666","values":[0,8.4,13.4,16.9,19.6,21.8,23.7,25.3,26.7,28,36.4,41.4,44.9,47.6,49.8,51.7,53.3,54.7,56,64.4,69.4,72.9,75.6,77.8,79.7,81.3,82.7,84,92.4,97.4]}},"y":{"field":"y","type":"quantitative","stack":null,"scale":{"domain":[0,100],"nice":false},"axis":{"title":null,"labels":false,"domain":false,"minExtent":0,"maxExtent":0,"tickSize":-2,"tickWidth":0.6,"tickColor":"#666","values":[0,5,10,15,20,25,30,35,40,45,50,55,60,65,70,75,80,85,90,95]}},"fill":{"field":"g","type":"nominal","scale":{"domain":["neg","mid","hi"],"range":["#5e5e5e","#EC9A5A","#BB53EE"]},"legend":null},"stroke":{"field":"g","type":"nominal","scale":{"domain":["neg","mid","hi"],"range":["#222222","#D9803A","#9C34D4"]},"legend":null}}},
 {"data":{"name":"stats"},"transform":[{"filter":"datum.p === 'B3'"}],"layer":[
  {"mark":{"type":"rule","color":"#9a9a9a","strokeWidth":1.2},"encoding":{"x":{"datum":30.5}}},
  {"mark":{"type":"rule","color":"#9a9a9a","strokeWidth":1.2},"encoding":{"x":{"datum":63}}},
  {"mark":{"type":"text","align":"center","baseline":"top","fontSize":15,"color":"#222"},"encoding":{"x":{"datum":7},"y":{"datum":96},"text":{"field":"neg"}}},
  {"mark":{"type":"text","align":"right","baseline":"top","fontSize":15,"color":"#D8913E"},"encoding":{"x":{"datum":61},"y":{"datum":96},"text":{"field":"mid"}}},
  {"mark":{"type":"text","align":"right","baseline":"top","fontSize":15,"color":"#A83FD8"},"encoding":{"x":{"datum":99},"y":{"datum":96},"text":{"field":"hi"}}}]}]},
{"width":156,"height":4,"view":{"stroke":null},"data":{"name":"arrows"},"transform":[{"filter":"datum.p === 'B'"}],"layer":[
 {"mark":{"type":"rule","color":"#111","strokeWidth":1.5},"encoding":{"x":{"datum":4,"type":"quantitative","scale":{"domain":[0,100],"nice":false},"axis":{"title":"CD177 (MEM-166)","labels":false,"ticks":false,"domain":false,"titleFontSize":14,"titleFontWeight":"normal","titleColor":"#111","titlePadding":6,"titleX":65}},"x2":{"datum":76},"y":{"datum":0,"type":"quantitative","scale":{"domain":[0,1]},"axis":null}}},
 {"mark":{"type":"point","shape":"triangle-right","filled":true,"color":"#111","size":36,"opacity":1},"encoding":{"x":{"datum":78},"y":{"datum":0}}}]}
   ]},
   {"width":220,"height":233,"view":{"stroke":null},"title":{"text":"C","dx":-73,"offset":2},"layer":[
    {"data":{"name":"cgates"},"mark":{"type":"rule","color":"#aaaaaa","strokeWidth":1},"encoding":{"x":{"field":"x","type":"quantitative","scale":{"domain":[0,100],"nice":false},"axis":{"values":[0,20,40,60,80,100],"title":"CD177ⁿᵉᵍ (% neutrophils)","titleFontSize":17,"titleFontWeight":"normal","titleColor":"#111","titleX":132,"titlePadding":10,"labelFontSize":16,"labelColor":"#111","labelPadding":8,"labelFlush":false,"domainColor":"#111","domainWidth":1.5,"tickColor":"#111","tickSize":-4,"tickWidth":1}},"x2":{"field":"x2"},"y":{"field":"y","type":"quantitative","scale":{"domain":[0,100],"nice":false,"range":[233,23]},"axis":{"values":[0,20,40,60,80,100],"title":"CD177ʰⁱ (% neutrophils)","titleFontSize":17,"titleFontWeight":"normal","titleColor":"#111","titleY":115,"titlePadding":6,"labelFontSize":16,"labelColor":"#111","labelPadding":8,"labelFlush":false,"domainColor":"#111","domainWidth":1.5,"tickColor":"#111","tickSize":-4,"tickWidth":1}},"y2":{"field":"y2"}}},
    {"data":{"name":"scatter"},"mark":{"type":"point","shape":"circle","filled":false,"stroke":"#111","strokeWidth":1,"size":55,"opacity":1},"encoding":{"x":{"field":"x","type":"quantitative"},"y":{"field":"y","type":"quantitative"}}},
    {"data":{"name":"clabels"},"transform":[{"filter":"datum.k === 'hi'"}],"mark":{"type":"text","align":"left","baseline":"middle","fontSize":14,"fontWeight":"bold","color":"#111"},"encoding":{"x":{"datum":7},"y":{"datum":101.5},"text":{"field":"label"}}},
    {"data":{"name":"clabels"},"transform":[{"filter":"datum.k === 'mid'"}],"mark":{"type":"text","align":"left","baseline":"middle","fontSize":14,"fontWeight":"bold","color":"#111"},"encoding":{"x":{"datum":42},"y":{"datum":65},"text":{"field":"label"}}},
    {"data":{"name":"clabels"},"transform":[{"filter":"datum.k === 'neg'"}],"mark":{"type":"text","align":"left","baseline":"middle","fontSize":14,"fontWeight":"bold","color":"#111"},"encoding":{"x":{"datum":87.7},"y":{"datum":18},"text":{"field":"label"}}}
   ]}
  ]},
 {"title":{"text":"D","dx":-34,"offset":2},"vconcat":[
 {"title":{"text":"CD177 (MEM-166)","orient":"bottom","anchor":"middle","frame":"bounds","fontSize":14,"dx":10,"offset":5},"spacing":5,"hconcat":[
  {"width":95,"height":90,"layer":[
   {"data":{"name":"dcont"},"transform":[{"filter":"datum.p === 'L'"}],"mark":{"type":"line","interpolate":"cardinal-closed","strokeWidth":1.3,"clip":true},"encoding":{"x":{"field":"x","type":"quantitative","scale":{"domain":[0,100],"nice":false},"axis":{"title":null,"labels":false,"domain":false,"minExtent":0,"maxExtent":0,"tickSize":-2,"tickWidth":0.6,"tickColor":"#777","values":[0,8.4,13.4,16.9,19.6,21.8,23.7,25.3,26.7,28,36.4,41.4,44.9,47.6,49.8,51.7,53.3,54.7,56,64.4,69.4,72.9,75.6,77.8,79.7,81.3,82.7,84,92.4,97.4]}},"y":{"field":"y","type":"quantitative","scale":{"domain":[0,100],"nice":false},"axis":{"title":"CD177 (REA258)","titleFontSize":14,"titleFontWeight":"normal","titleColor":"#111","titlePadding":9,"labels":false,"domain":false,"tickSize":-2,"tickWidth":0.6,"tickColor":"#777","values":[0,8.4,13.4,16.9,19.6,21.8,23.7,25.3,26.7,28,36.4,41.4,44.9,47.6,49.8,51.7,53.3,54.7,56,64.4,69.4,72.9,75.6,77.8,79.7,81.3,82.7,84,92.4,97.4]}},"detail":{"field":"c"},"order":{"field":"i"},"stroke":{"field":"g","type":"nominal","scale":{"domain":["neg","mid","hi"],"range":["#222222","#D9803A","#9C34D4"]},"legend":null}}},
   {"data":{"name":"ddots"},"transform":[{"filter":"datum.p === 'L'"}],"mark":{"type":"point","filled":true,"size":3,"color":"#222","opacity":0.8},"encoding":{"x":{"field":"x","type":"quantitative"},"y":{"field":"y","type":"quantitative"}}}
  ]},
  {"width":95,"height":90,"layer":[
   {"data":{"name":"dcont"},"transform":[{"filter":"datum.p === 'R'"}],"mark":{"type":"line","interpolate":"cardinal-closed","strokeWidth":1.3,"clip":true},"encoding":{"x":{"field":"x","type":"quantitative","scale":{"domain":[0,100],"nice":false},"axis":{"title":null,"labels":false,"domain":false,"minExtent":0,"maxExtent":0,"tickSize":-2,"tickWidth":0.6,"tickColor":"#777","values":[0,8.4,13.4,16.9,19.6,21.8,23.7,25.3,26.7,28,36.4,41.4,44.9,47.6,49.8,51.7,53.3,54.7,56,64.4,69.4,72.9,75.6,77.8,79.7,81.3,82.7,84,92.4,97.4]}},"y":{"field":"y","type":"quantitative","scale":{"domain":[0,100],"nice":false},"axis":{"title":null,"labels":false,"domain":false,"minExtent":0,"maxExtent":0,"tickSize":-2,"tickWidth":0.6,"tickColor":"#777","values":[0,8.4,13.4,16.9,19.6,21.8,23.7,25.3,26.7,28,36.4,41.4,44.9,47.6,49.8,51.7,53.3,54.7,56,64.4,69.4,72.9,75.6,77.8,79.7,81.3,82.7,84,92.4,97.4]}},"detail":{"field":"c"},"order":{"field":"i"},"stroke":{"field":"g","type":"nominal","scale":{"domain":["neg","mid","hi"],"range":["#222222","#D9803A","#9C34D4"]},"legend":null}}},
   {"data":{"name":"ddots"},"transform":[{"filter":"datum.p === 'R'"}],"mark":{"type":"point","filled":true,"size":3,"color":"#222","opacity":0.8},"encoding":{"x":{"field":"x","type":"quantitative"},"y":{"field":"y","type":"quantitative"}}}
  ]}
 ]}
 ]}
]}
]
}
